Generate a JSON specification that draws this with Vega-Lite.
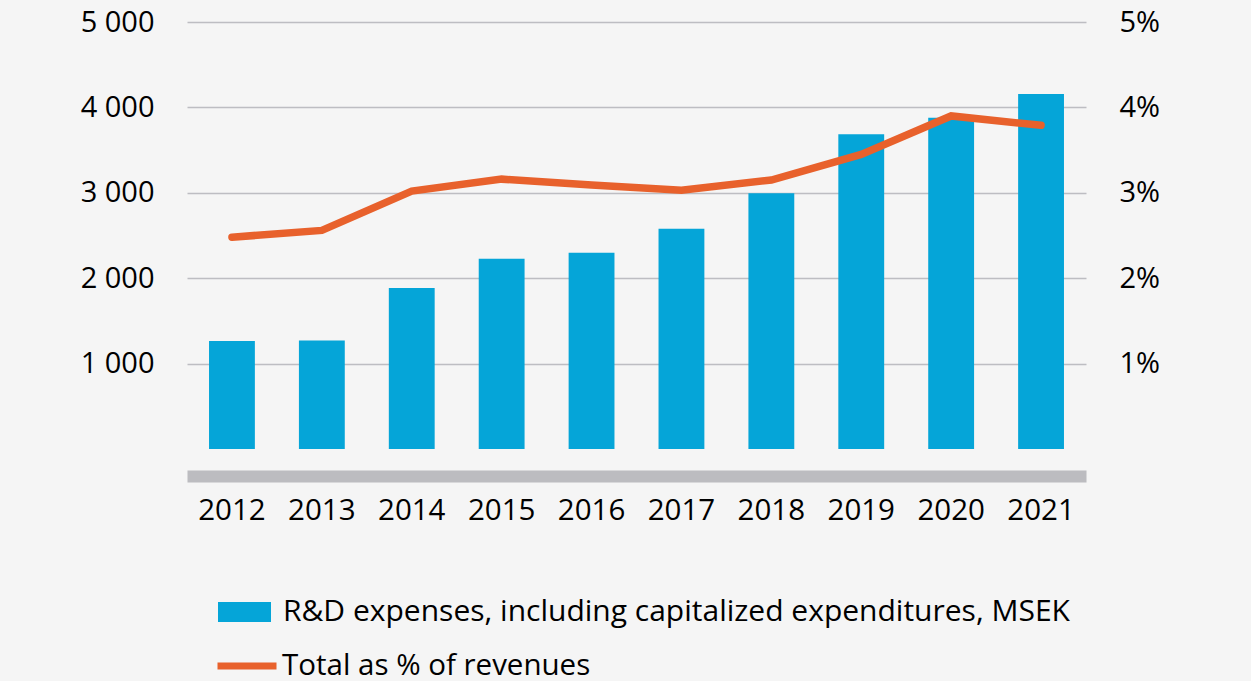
{
  "$schema": "https://vega.github.io/schema/vega-lite/v6.json",
  "autosize": {"type": "none"},
  "padding": {"left": 187, "top": 22, "right": 165, "bottom": 232},
  "width": 899,
  "height": 427,
  "background": "#f5f5f5",
  "config": {
    "view": {"stroke": null},
    "font": "Open Sans",
    "axis": {"labelFont": "Open Sans", "labelColor": "#000000", "titleFont": "Open Sans"},
    "legend": {"labelFont": "Open Sans", "labelColor": "#000000"}
  },
  "data": {
    "values": [
      {"year": "2012", "rd": 1265, "pct": 2.48},
      {"year": "2013", "rd": 1270, "pct": 2.56},
      {"year": "2014", "rd": 1885, "pct": 3.02},
      {"year": "2015", "rd": 2228, "pct": 3.16},
      {"year": "2016", "rd": 2299, "pct": 3.09},
      {"year": "2017", "rd": 2580, "pct": 3.03},
      {"year": "2018", "rd": 2994, "pct": 3.15},
      {"year": "2019", "rd": 3685, "pct": 3.45},
      {"year": "2020", "rd": 3880, "pct": 3.9},
      {"year": "2021", "rd": 4157, "pct": 3.79}
    ]
  },
  "encoding": {
    "x": {
      "field": "year",
      "type": "ordinal",
      "scale": {"paddingInner": 0.49, "paddingOuter": 0.245},
      "axis": {
        "title": null,
        "labelAngle": 0,
        "labelFontSize": 29.5,
        "labelBaseline": "middle",
        "labelPadding": 34,
        "ticks": false,
        "offset": 27,
        "domain": true,
        "domainWidth": 12,
        "domainColor": "#bcbcc0",
        "grid": false
      }
    }
  },
  "layer": [
    {
      "mark": {"type": "bar"},
      "encoding": {
        "y": {
          "field": "rd",
          "type": "quantitative",
          "scale": {"domain": [0, 5000], "nice": false},
          "axis": {
            "title": null,
            "orient": "left",
            "values": [1000, 2000, 3000, 4000, 5000],
            "labelExpr": "replace(format(datum.value, ','), ',', ' ')",
            "labelFontSize": 29,
            "labelPadding": 33,
            "ticks": false,
            "domain": false,
            "grid": true,
            "gridColor": "#bdbdc2",
            "gridWidth": 1.5
          }
        },
        "fill": {
          "datum": "R&D expenses, including capitalized expenditures, MSEK",
          "scale": {"range": ["#05a5d8"]},
          "legend": {
            "title": null,
            "orient": "none",
            "legendX": 31,
            "legendY": 563.5,
            "symbolType": "M-1,-0.377H1V0.377H-1Z",
            "symbolSize": 2809,
            "symbolStrokeWidth": 0,
            "labelFontSize": 30,
            "labelOffset": 12,
            "labelLimit": 1200
          }
        }
      }
    },
    {
      "mark": {"type": "line", "strokeWidth": 7.5, "strokeCap": "round", "strokeJoin": "miter"},
      "encoding": {
        "y": {
          "field": "pct",
          "type": "quantitative",
          "scale": {"domain": [0, 5], "nice": false},
          "axis": {
            "title": null,
            "orient": "right",
            "values": [1, 2, 3, 4, 5],
            "labelExpr": "datum.value + '%'",
            "labelFontSize": 29,
            "labelPadding": 33,
            "ticks": false,
            "domain": false,
            "grid": false
          }
        },
        "stroke": {
          "datum": "Total as % of revenues",
          "scale": {"range": ["#e8612c"]},
          "legend": {
            "title": null,
            "orient": "none",
            "legendX": 27,
            "legendY": 611,
            "symbolType": "stroke",
            "symbolSize": 3481,
            "symbolStrokeWidth": 7,
            "labelFontSize": 29.5,
            "labelOffset": 2,
            "labelLimit": 1200
          }
        }
      }
    }
  ],
  "resolve": {"scale": {"y": "independent"}}
}
